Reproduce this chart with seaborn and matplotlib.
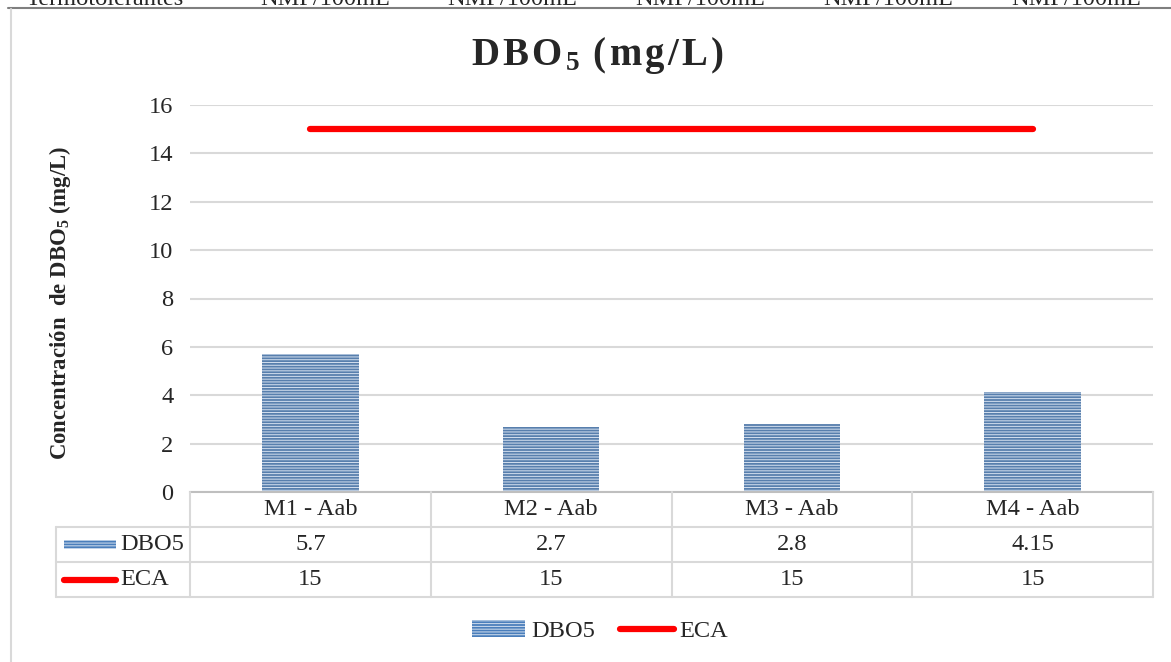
import numpy as np
import pandas as pd
import matplotlib.pyplot as plt
import matplotlib.patches as mpatches
from matplotlib.lines import Line2D
import seaborn as sns

# ============= 数据 =============
categories = ['M1 - Aab', 'M2 - Aab', 'M3 - Aab', 'M4 - Aab']
dbo5 = [5.7, 2.7, 2.8, 4.15]
eca = [15, 15, 15, 15]
dbo5_labels = ['5.7', '2.7', '2.8', '4.15']
eca_labels = ['15', '15', '15', '15']
top_row = ['Termotolerantes', 'NMP/100mL', 'NMP/100mL', 'NMP/100mL', 'NMP/100mL', 'NMP/100mL']

# ============= 样式 =============
sns.set_theme(style='white')
plt.rcParams['font.family'] = ['Liberation Serif', 'DejaVu Serif']
plt.rcParams['mathtext.default'] = 'regular'
plt.rcParams['hatch.linewidth'] = 0.7

BAR_BLUE = '#4a7ebb'
HATCH_LIGHT = '#d4e0ef'
GRID = '#d9d9d9'
FS = 17.6

W, H = 1171, 662
fig = plt.figure(figsize=(W / 100, H / 100), dpi=100)

def fx(px):
    return px / W

def fy(py):
    return 1 - py / H

# 主图区域
ax = fig.add_axes([fx(190), fy(492), fx(1153) - fx(190), fy(105) - fy(492)])
df = pd.DataFrame({'Muestra': categories, 'DBO5': dbo5})
sns.barplot(data=df, x='Muestra', y='DBO5', ax=ax, width=0.4,
            color=BAR_BLUE, edgecolor=HATCH_LIGHT, linewidth=0, hatch='------')
x_pos = np.arange(len(categories))
ax.plot(x_pos, eca, color='#ff0000', lw=4.5, solid_capstyle='round', zorder=3)

ax.set_xlim(-0.5, len(categories) - 0.5)
ax.set_ylim(0, 16)
ax.set_yticks(range(0, 17, 2))
ax.tick_params(axis='y', length=0, pad=12, labelsize=FS)
ax.set_xticks([])
ax.set_xlabel('')
ax.set_ylabel('')
ax.yaxis.grid(True, color=GRID, lw=1.5)
ax.set_axisbelow(True)
for s in ['top', 'right', 'left']:
    ax.spines[s].set_visible(False)
ax.spines['bottom'].set_color('#bfbfbf')
ax.spines['bottom'].set_linewidth(1.5)

# ============= 数据表 =============
left_w = (190 - 56) / ((1153 - 190) / len(categories))
tx = fig.add_axes([fx(56), fy(597), fx(1153) - fx(56), fy(492) - fy(597)])
tx.set_xlim(-0.5 - left_w, len(categories) - 0.5)
tx.set_ylim(3, 0)
tx.axis('off')
x0 = -0.5 - left_w
x1 = len(categories) - 0.5
for yy in [1, 2, 3]:
    tx.plot([x0, x1], [yy, yy], color=GRID, lw=1.5, clip_on=False)
tx.plot([x0, x0], [1, 3], color=GRID, lw=1.5, clip_on=False)
for xx in np.arange(-0.5, len(categories), 1.0):
    tx.plot([xx, xx], [0, 3], color=GRID, lw=1.5, clip_on=False)
for i, c in enumerate(categories):
    tx.text(i, 0.5, c, ha='center', va='center', fontsize=FS)
    tx.text(i, 1.5, dbo5_labels[i], ha='center', va='center', fontsize=FS)
    tx.text(i, 2.5, eca_labels[i], ha='center', va='center', fontsize=FS)

unit = 1 / ((1153 - 190) / len(categories))
tx.add_patch(mpatches.Rectangle((x0 + 8 * unit, 1.38), 52 * unit, 0.26,
                                facecolor=BAR_BLUE, edgecolor=HATCH_LIGHT,
                                linewidth=0, hatch='------'))
tx.plot([x0 + 8 * unit, x0 + 60 * unit], [2.5, 2.5], color='#ff0000', lw=4.5,
        solid_capstyle='round')
tx.text(x0 + 64 * unit, 1.5, 'DBO5', ha='left', va='center', fontsize=FS)
tx.text(x0 + 64 * unit, 2.5, 'ECA', ha='left', va='center', fontsize=FS)

# ============= 标题与坐标轴标签 =============
hs = '\u200a'
title = hs.join('DBO') + hs + '$_5$' + hs + ' ' + hs.join('(mg/L)')
fig.text(fx(597), fy(55), title, ha='center', va='center', fontsize=28,
         fontweight='bold')
fig.text(fx(60), fy(303), 'Concentración  de DBO$_5$ (mg/L)', ha='center',
         va='center', rotation=90, fontsize=16.4, fontweight='bold')

# ============= 图例 =============
handles = [mpatches.Patch(facecolor=BAR_BLUE, edgecolor=HATCH_LIGHT, linewidth=0,
                          hatch='------', label='DBO5'),
           Line2D([0], [0], color='#ff0000', lw=4.5, solid_capstyle='round', label='ECA')]
fig.legend(handles=handles, loc='center', bbox_to_anchor=(fx(600), fy(631)),
           ncol=2, frameon=False, fontsize=FS, handlelength=2.2,
           handletextpad=0.25, columnspacing=1.0)

# ============= 顶部截断文字与边框 =============
for txt, cx in zip(top_row, [105, 325, 512, 700, 888, 1076]):
    fig.text(fx(cx), fy(5), txt, ha='center', va='baseline', fontsize=FS)
fig.add_artist(Line2D([fx(8), 1], [fy(8), fy(8)], color='#7f7f7f', lw=1.5))
fig.add_artist(Line2D([fx(11), fx(11)], [0, fy(9)], color=GRID, lw=1.5))

fig.savefig('out.png', dpi=100)
